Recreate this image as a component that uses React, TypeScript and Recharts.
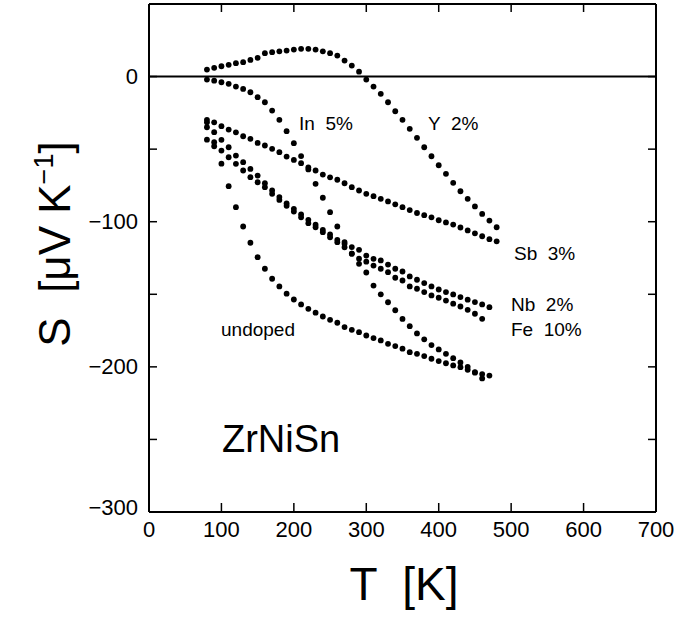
import React from 'react';
import { ScatterChart, Scatter, XAxis, YAxis, ReferenceLine } from 'recharts';

// ---- data (T in K, S in µV/K) ----
const T_Y2 = [80, 90, 100, 110, 120, 130, 140, 150, 160, 170, 180, 190, 200, 210, 220, 230, 240, 250, 260, 270, 280, 290, 300, 310, 320, 330, 340, 350, 360, 370, 380, 390, 400, 410, 420, 430, 440, 450, 460, 470, 480];
const S_Y2 = [4.8, 6.0, 7.1, 8.1, 9.2, 9.9, 11.5, 12.9, 16.1, 16.8, 17.4, 17.9, 18.6, 19.1, 19.1, 18.6, 17.4, 16.1, 14.5, 11.0, 7.6, 3.4, -2.1, -6.9, -11.9, -17.7, -23.9, -29.8, -36.0, -42.2, -48.7, -54.9, -61.1, -67.0, -73.2, -79.0, -84.2, -89.5, -94.6, -99.2, -103.8];

const T_IN5 = [80, 90, 100, 110, 120, 130, 140, 150, 160, 170, 180, 190, 200, 210, 220, 230, 240, 250, 260, 270, 280, 290, 300, 310, 320, 330, 340, 350, 360, 370, 380, 390, 400, 410, 420, 430, 440, 450, 460];
const S_IN5 = [-2.1, -2.8, -3.9, -5.0, -6.9, -8.5, -10.8, -14.2, -17.7, -23.4, -29.8, -37.6, -45.9, -54.8, -64.0, -73.9, -83.5, -93.4, -103.3, -114.0, -122.0, -129.0, -135.0, -144.0, -150.0, -155.5, -161.0, -167.0, -172.0, -177.0, -181.0, -185.0, -188.0, -191.0, -194.0, -197.0, -200.0, -204.0, -208.0];

const T_SB3 = [80, 90, 100, 110, 120, 130, 140, 150, 160, 170, 180, 190, 200, 210, 220, 230, 240, 250, 260, 270, 280, 290, 300, 310, 320, 330, 340, 350, 360, 370, 380, 390, 400, 410, 420, 430, 440, 450, 460, 470, 480];
const S_SB3 = [-29.8, -31.5, -34.2, -36.5, -38.4, -41.1, -42.9, -45.7, -47.5, -49.8, -52.1, -55.1, -57.4, -59.7, -62.5, -64.7, -67.5, -69.4, -71.1, -73.5, -76.2, -78.5, -80.8, -82.4, -84.2, -86.0, -88.0, -90.0, -92.0, -94.0, -95.5, -97.0, -99.0, -100.5, -102.0, -104.0, -106.0, -108.0, -110.0, -112.0, -113.5];

const T_NB2 = [80, 90, 100, 110, 120, 130, 140, 150, 160, 170, 180, 190, 200, 210, 220, 230, 240, 250, 260, 270, 280, 290, 300, 310, 320, 330, 340, 350, 360, 370, 380, 390, 400, 410, 420, 430, 440, 450, 460, 470];
const S_NB2 = [-31.5, -38.3, -43.6, -48.7, -54.4, -59.0, -63.6, -68.2, -73.5, -78.5, -83.0, -87.3, -91.1, -95.0, -98.7, -102.1, -105.6, -108.8, -112.5, -115.2, -117.5, -119.4, -123.3, -125.6, -126.7, -129.5, -132.4, -134.3, -137.7, -140.0, -142.3, -144.6, -146.7, -148.5, -150.1, -151.9, -153.7, -155.4, -157.0, -158.9];

const T_FE10 = [80, 90, 100, 110, 120, 130, 140, 150, 160, 170, 180, 190, 200, 210, 220, 230, 240, 250, 260, 270, 280, 290, 300, 310, 320, 330, 340, 350, 360, 370, 380, 390, 400, 410, 420, 430, 440, 450, 460];
const S_FE10 = [-34.9, -45.2, -51.0, -55.6, -60.1, -64.7, -69.3, -72.8, -76.2, -80.8, -85.0, -89.0, -93.0, -97.0, -101.0, -103.8, -107.2, -110.7, -114.1, -117.6, -122.0, -125.5, -127.5, -130.2, -132.4, -134.8, -138.6, -140.5, -144.6, -146.2, -148.5, -150.8, -152.4, -154.3, -156.5, -158.4, -160.7, -163.4, -166.9];

const T_UND = [80, 90, 100, 110, 120, 130, 140, 150, 160, 170, 180, 190, 200, 210, 220, 230, 240, 250, 260, 270, 280, 290, 300, 310, 320, 330, 340, 350, 360, 370, 380, 390, 400, 410, 420, 430, 440, 450, 460, 470];
const S_UND = [-43.5, -48.0, -60.0, -75.5, -90.0, -103.3, -114.5, -124.4, -132.4, -139.3, -144.6, -149.6, -153.6, -157.0, -160.0, -162.7, -165.3, -167.6, -169.6, -172.6, -174.5, -176.1, -178.4, -180.2, -181.8, -184.1, -185.7, -187.5, -189.9, -191.0, -192.6, -194.4, -196.0, -197.5, -199.0, -200.2, -202.0, -203.6, -205.0, -206.0];

const X_TICKS = [0, 100, 200, 300, 400, 500, 600, 700];
const Y_TICKS = [-300, -250, -200, -150, -100, -50, 0];
const FRAME_ANCHOR = [{ T: 0, S: -300 }];

// ---- layout ----
const W = 678;
const H = 620;
const PL = 149;
const PR = 656;
const PT = 4;
const PB = 512;
const FONT = '"Liberation Sans", Arial, Helvetica, sans-serif';

const pts = (ts: number[], ss: number[]) => ts.map((t, i) => ({ T: t, S: ss[i] }));

const fmt = (v: number) => (v < 0 ? '\u2212' + Math.abs(v) : String(v));

const Dot = (props: any) => {
  const { cx, cy } = props;
  if (cx == null || cy == null) return null;
  return <circle cx={cx} cy={cy} r={2.9} fill="#000" />;
};

const NoDot = () => <g />;

const BottomTick = (props: any) => {
  const { x, payload } = props;
  const v = payload.value;
  return (
    <g>
      {v > 0 && v < 700 && <line x1={x} x2={x} y1={PB} y2={PB - 9} stroke="#000" strokeWidth={1.5} />}
      <text x={x} y={PB + 17} textAnchor="middle" dominantBaseline="central" fontSize={22} fontFamily={FONT} fill="#000">
        {fmt(v)}
      </text>
    </g>
  );
};

const TopTick = (props: any) => {
  const { x, payload } = props;
  const v = payload.value;
  if (!(v > 0 && v < 700)) return <g />;
  return <line x1={x} x2={x} y1={PT} y2={PT + 8} stroke="#000" strokeWidth={1.5} />;
};

const LeftTick = (props: any) => {
  const { y, payload } = props;
  const v = payload.value;
  const showLabel = v % 100 === 0;
  return (
    <g>
      {v > -300 && <line x1={PL} x2={PL + 8} y1={y} y2={y} stroke="#000" strokeWidth={1.5} />}
      {showLabel && (
        <text x={PL - 11} y={v === -300 ? y - 5 : y} textAnchor="end" dominantBaseline="central" fontSize={22} fontFamily={FONT} fill="#000">
          {fmt(v)}
        </text>
      )}
    </g>
  );
};

const RightTick = (props: any) => {
  const { y, payload } = props;
  const v = payload.value;
  if (v <= -300) return <g />;
  return <line x1={PR} x2={PR - 8} y1={y} y2={y} stroke="#000" strokeWidth={1.5} />;
};

const LABELS: { text: string; x: number; y: number; size: number }[] = [
  { text: 'In  5%', x: 299, y: 130, size: 19 },
  { text: 'Y  2%', x: 428, y: 130, size: 19 },
  { text: 'Sb  3%', x: 514, y: 260, size: 19 },
  { text: 'Nb  2%', x: 511, y: 311, size: 19 },
  { text: 'Fe  10%', x: 511, y: 336, size: 19 },
  { text: 'undoped', x: 221, y: 336, size: 19 },
  { text: 'ZrNiSn', x: 222, y: 452, size: 38 },
];

export default function App() {
  const axisStroke = { stroke: '#000', strokeWidth: 2 };
  return (
    <div style={{ position: 'absolute', left: 0, top: 0, width: W, height: H, background: '#fff' }}>
      <ScatterChart width={W} height={H} margin={{ top: PT - 1, right: W - PR - 1, bottom: 0, left: 0 }}>
        <XAxis
          xAxisId="b"
          dataKey="T"
          type="number"
          domain={[0, 700]}
          ticks={X_TICKS}
          interval={0}
          height={H - PB}
          axisLine={axisStroke}
          tickLine={false}
          tick={<BottomTick />}
          allowDataOverflow
        />
        <XAxis
          xAxisId="t"
          dataKey="T"
          orientation="top"
          type="number"
          domain={[0, 700]}
          ticks={X_TICKS}
          interval={0}
          height={1}
          axisLine={axisStroke}
          tickLine={false}
          tick={<TopTick />}
          allowDataOverflow
        />
        <YAxis
          yAxisId="l"
          dataKey="S"
          type="number"
          domain={[-300, 50]}
          ticks={Y_TICKS}
          interval={0}
          width={PL}
          axisLine={axisStroke}
          tickLine={false}
          tick={<LeftTick />}
          allowDataOverflow
        />
        <YAxis
          yAxisId="r"
          dataKey="S"
          orientation="right"
          type="number"
          domain={[-300, 50]}
          ticks={Y_TICKS}
          interval={0}
          width={1}
          axisLine={axisStroke}
          tickLine={false}
          tick={<RightTick />}
          allowDataOverflow
        />
        <ReferenceLine xAxisId="b" yAxisId="l" y={0} stroke="#000" strokeWidth={2} />
        <Scatter xAxisId="t" yAxisId="r" data={FRAME_ANCHOR} shape={<NoDot />} isAnimationActive={false} />
        <Scatter xAxisId="b" yAxisId="l" data={pts(T_Y2, S_Y2)} shape={<Dot />} isAnimationActive={false} />
        <Scatter xAxisId="b" yAxisId="l" data={pts(T_IN5, S_IN5)} shape={<Dot />} isAnimationActive={false} />
        <Scatter xAxisId="b" yAxisId="l" data={pts(T_SB3, S_SB3)} shape={<Dot />} isAnimationActive={false} />
        <Scatter xAxisId="b" yAxisId="l" data={pts(T_NB2, S_NB2)} shape={<Dot />} isAnimationActive={false} />
        <Scatter xAxisId="b" yAxisId="l" data={pts(T_FE10, S_FE10)} shape={<Dot />} isAnimationActive={false} />
        <Scatter xAxisId="b" yAxisId="l" data={pts(T_UND, S_UND)} shape={<Dot />} isAnimationActive={false} />
      </ScatterChart>
      <svg width={W} height={H} style={{ position: 'absolute', left: 0, top: 0, pointerEvents: 'none' }}>
        {LABELS.map((l) => (
          <text key={l.text} x={l.x} y={l.y} fontSize={l.size} fontFamily={FONT} fill="#000" style={{ whiteSpace: 'pre' }}>
            {l.text}
          </text>
        ))}
        <text x={404} y={600} textAnchor="middle" fontSize={46} fontFamily={FONT} fill="#000" style={{ whiteSpace: 'pre' }}>
          {'T  [K]'}
        </text>
        <text
          x={0}
          y={0}
          transform="translate(70,244) rotate(-90)"
          textAnchor="middle"
          fontSize={44}
          fontFamily={FONT}
          fill="#000"
          style={{ whiteSpace: 'pre' }}
        >
          <tspan>{'S  [\u03BCV K'}</tspan>
          <tspan fontSize={27} dy={-17}>{'\u22121'}</tspan>
          <tspan dy={17}>{']'}</tspan>
        </text>
      </svg>
    </div>
  );
}
